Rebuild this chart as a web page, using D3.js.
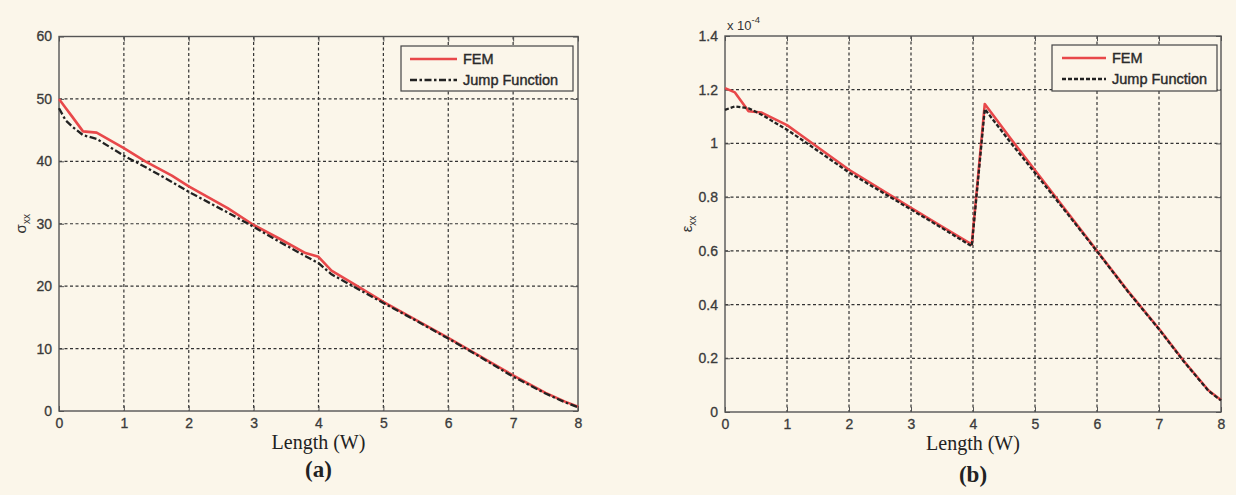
<!DOCTYPE html>
<html>
<head>
<meta charset="utf-8">
<script src="https://cdn.jsdelivr.net/npm/d3@7"></script>
<style>
  body { margin: 0; background: #fbf6ea; }
  svg { display: block; }
  .tick text { font-family: "Liberation Sans", Arial, sans-serif; }
</style>
</head>
<body>
<div id="chart"></div>
<script>
// ---- data ----
// panel (a): sigma_xx along the length
var xA = [0, 0.1, 0.2, 0.37, 0.58, 1.0, 1.33, 1.74, 2.0, 2.6, 3.0, 3.4, 3.8, 4.0, 4.2, 4.6, 5.0, 5.5, 6.0, 6.5, 7.0, 7.5, 7.8, 8.0];
var femA = [50, 48.6, 47.2, 44.8, 44.6, 42.1, 40.0, 37.7, 36.0, 32.5, 29.8, 27.6, 25.3, 24.7, 22.5, 20.0, 17.5, 14.6, 11.7, 8.7, 5.7, 2.9, 1.5, 0.7];
var jumpA = [48.5, 46.6, 45.6, 44.2, 43.6, 40.9, 39.1, 36.7, 35.1, 31.8, 29.5, 27.1, 24.8, 23.7, 21.9, 19.6, 17.3, 14.5, 11.6, 8.6, 5.5, 2.8, 1.4, 0.6];

// panel (b): epsilon_xx (x 10^-4)
var xB = [0, 0.16, 0.38, 0.59, 1.0, 1.2, 2.0, 3.0, 3.5, 3.98, 4.19, 4.6, 5.0, 5.5, 6.0, 6.5, 7.0, 7.4, 7.8, 8.0];
var femB = [1.206, 1.19, 1.12, 1.115, 1.068, 1.035, 0.902, 0.76, 0.69, 0.624, 1.147, 1.02, 0.9, 0.75, 0.6, 0.45, 0.31, 0.19, 0.08, 0.045];
var jumpB = [1.125, 1.138, 1.131, 1.107, 1.051, 1.02, 0.892, 0.754, 0.685, 0.617, 1.128, 1.005, 0.89, 0.745, 0.598, 0.448, 0.308, 0.188, 0.078, 0.043];

var xTicks = [0, 1, 2, 3, 4, 5, 6, 7, 8];
var yTicksA = [0, 10, 20, 30, 40, 50, 60];
var yTicksB = [0, 0.2, 0.4, 0.6, 0.8, 1, 1.2, 1.4];
var seriesNames = ["FEM", "Jump Function"];

var W = 1236, H = 495;
var svg = d3.select("#chart").append("svg")
  .attr("width", W)
  .attr("height", H);

svg.append("rect").attr("width", W).attr("height", H).attr("fill", "#fbf6ea");

function drawPanel(p) {
  var x = d3.scaleLinear().domain([0, 8]).range([p.left, p.right]);
  var y = d3.scaleLinear().domain(p.yDomain).range([p.bottom, p.top]);
  var g = svg.append("g");

  // grid (dotted, matlab style)
  g.selectAll(".vgrid").data(xTicks.slice(1, -1)).enter().append("line")
    .attr("x1", d => x(d)).attr("x2", d => x(d))
    .attr("y1", p.top).attr("y2", p.bottom)
    .attr("stroke", "#333").attr("stroke-width", 1.2)
    .attr("stroke-dasharray", "3,2.5");
  g.selectAll(".hgrid").data(p.yTicks.slice(1, -1)).enter().append("line")
    .attr("x1", p.left).attr("x2", p.right)
    .attr("y1", d => y(d)).attr("y2", d => y(d))
    .attr("stroke", "#333").attr("stroke-width", 1.2)
    .attr("stroke-dasharray", "3,2.5");

  // axes with inward ticks on all four sides
  var fmt = p.fmt;
  var xb = g.append("g").attr("transform", "translate(0," + p.bottom + ")")
    .call(d3.axisBottom(x).tickValues(xTicks).tickSizeInner(-5).tickSizeOuter(0).tickPadding(7));
  var xt = g.append("g").attr("transform", "translate(0," + p.top + ")")
    .call(d3.axisTop(x).tickValues(xTicks).tickSizeInner(-5).tickSizeOuter(0).tickFormat(""));
  var yl = g.append("g").attr("transform", "translate(" + p.left + ",0)")
    .call(d3.axisLeft(y).tickValues(p.yTicks).tickSizeInner(-5).tickSizeOuter(0).tickPadding(7).tickFormat(fmt));
  var yr = g.append("g").attr("transform", "translate(" + p.right + ",0)")
    .call(d3.axisRight(y).tickValues(p.yTicks).tickSizeInner(-5).tickSizeOuter(0).tickFormat(""));
  [xb, xt, yl, yr].forEach(function(a) {
    a.select(".domain").attr("stroke", "none");
    a.selectAll(".tick line").attr("stroke", "#555");
    a.selectAll(".tick text").attr("fill", "#3a3a3a")
      .style("font-size", "14px")
      .attr("stroke", "#3a3a3a").attr("stroke-width", 0.3);
  });

  // frame
  g.append("rect")
    .attr("x", p.left).attr("y", p.top)
    .attr("width", p.right - p.left).attr("height", p.bottom - p.top)
    .attr("fill", "none").attr("stroke", "#555").attr("stroke-width", 1.4);

  // lines
  var line = d3.line().x(d => x(d[0])).y(d => y(d[1]));
  var femPts = p.xs.map((v, i) => [v, p.fem[i]]);
  var jumpPts = p.xs.map((v, i) => [v, p.jump[i]]);
  g.append("path").datum(femPts).attr("d", line)
    .attr("fill", "none").attr("stroke", "#e8484a").attr("stroke-width", 2.6)
    .attr("stroke-linejoin", "round");
  g.append("path").datum(jumpPts).attr("d", line)
    .attr("fill", "none").attr("stroke", "#222").attr("stroke-width", 2.3)
    .attr("stroke-dasharray", p.dash);

  // legend
  var lg = p.legend;
  g.append("rect")
    .attr("x", lg.x).attr("y", lg.y).attr("width", lg.w).attr("height", lg.h)
    .attr("fill", "#fbf6ea").attr("stroke", "#444").attr("stroke-width", 1.2);
  seriesNames.forEach(function(name, i) {
    var ly = lg.y + 13 + i * 21;
    g.append("line")
      .attr("x1", lg.x + lg.l1).attr("x2", lg.x + lg.l2)
      .attr("y1", ly).attr("y2", ly)
      .attr("stroke", i == 0 ? "#e8484a" : "#222")
      .attr("stroke-width", i == 0 ? 2.6 : 2.3)
      .attr("stroke-dasharray", i == 0 ? null : p.dash);
    g.append("text")
      .attr("x", lg.x + lg.l2 + 6).attr("y", ly + 5)
      .style("font-family", "'Liberation Sans', Arial, sans-serif")
      .style("font-size", "14.5px")
      .attr("fill", "#2a2a2a")
      .attr("stroke", "#2a2a2a").attr("stroke-width", 0.4)
      .text(name);
  });

  // x label and panel caption
  var cx = (p.left + p.right) / 2;
  g.append("text")
    .attr("x", cx).attr("y", p.bottom + 38)
    .attr("text-anchor", "middle")
    .style("font-family", "'Liberation Serif', 'Times New Roman', serif")
    .style("font-size", "20px")
    .attr("fill", "#222")
    .text("Length (W)");
  g.append("text")
    .attr("x", cx).attr("y", p.bottom + p.capDy)
    .attr("text-anchor", "middle")
    .style("font-family", "'Liberation Serif', 'Times New Roman', serif")
    .style("font-size", "23px")
    .style("font-weight", "bold")
    .attr("fill", "#222")
    .text(p.caption);

  // y label with subscript
  var yt = g.append("text")
    .attr("transform", "translate(" + p.ylabX + "," + ((p.top + p.bottom) / 2) + ") rotate(-90)")
    .attr("text-anchor", "middle")
    .style("font-family", "'Liberation Sans', Arial, sans-serif")
    .style("font-size", "15px")
    .attr("fill", "#333");
  yt.append("tspan").text(p.ySym);
  yt.append("tspan").attr("dy", 4).style("font-size", "10px").text("xx");
}

drawPanel({
  left: 59, right: 578, top: 36.5, bottom: 411,
  yDomain: [0, 60], yTicks: yTicksA, fmt: d3.format("d"),
  xs: xA, fem: femA, jump: jumpA, dash: "7,2.5,2.5,2.5",
  legend: {x: 401, y: 46, w: 172, h: 45, l1: 9, l2: 56},
  caption: "(a)", capDy: 66, ySym: "σ", ylabX: 26
});

drawPanel({
  left: 725, right: 1221, top: 36, bottom: 412,
  yDomain: [0, 1.4], yTicks: yTicksB, fmt: d => d3.format("")(+d.toFixed(1)),
  xs: xB, fem: femB, jump: jumpB, dash: "4,2",
  legend: {x: 1052, y: 45, w: 165, h: 46, l1: 10, l2: 54},
  caption: "(b)", capDy: 70, ySym: "ε", ylabX: 692
});

// exponent label above panel (b)
var ex = svg.append("text")
  .attr("x", 727).attr("y", 30)
  .style("font-family", "'Liberation Sans', Arial, sans-serif")
  .style("font-size", "13px")
  .attr("fill", "#333");
ex.append("tspan").text("x 10");
ex.append("tspan").attr("dy", -7).style("font-size", "9.5px").text("-4");
</script>
</body>
</html>
